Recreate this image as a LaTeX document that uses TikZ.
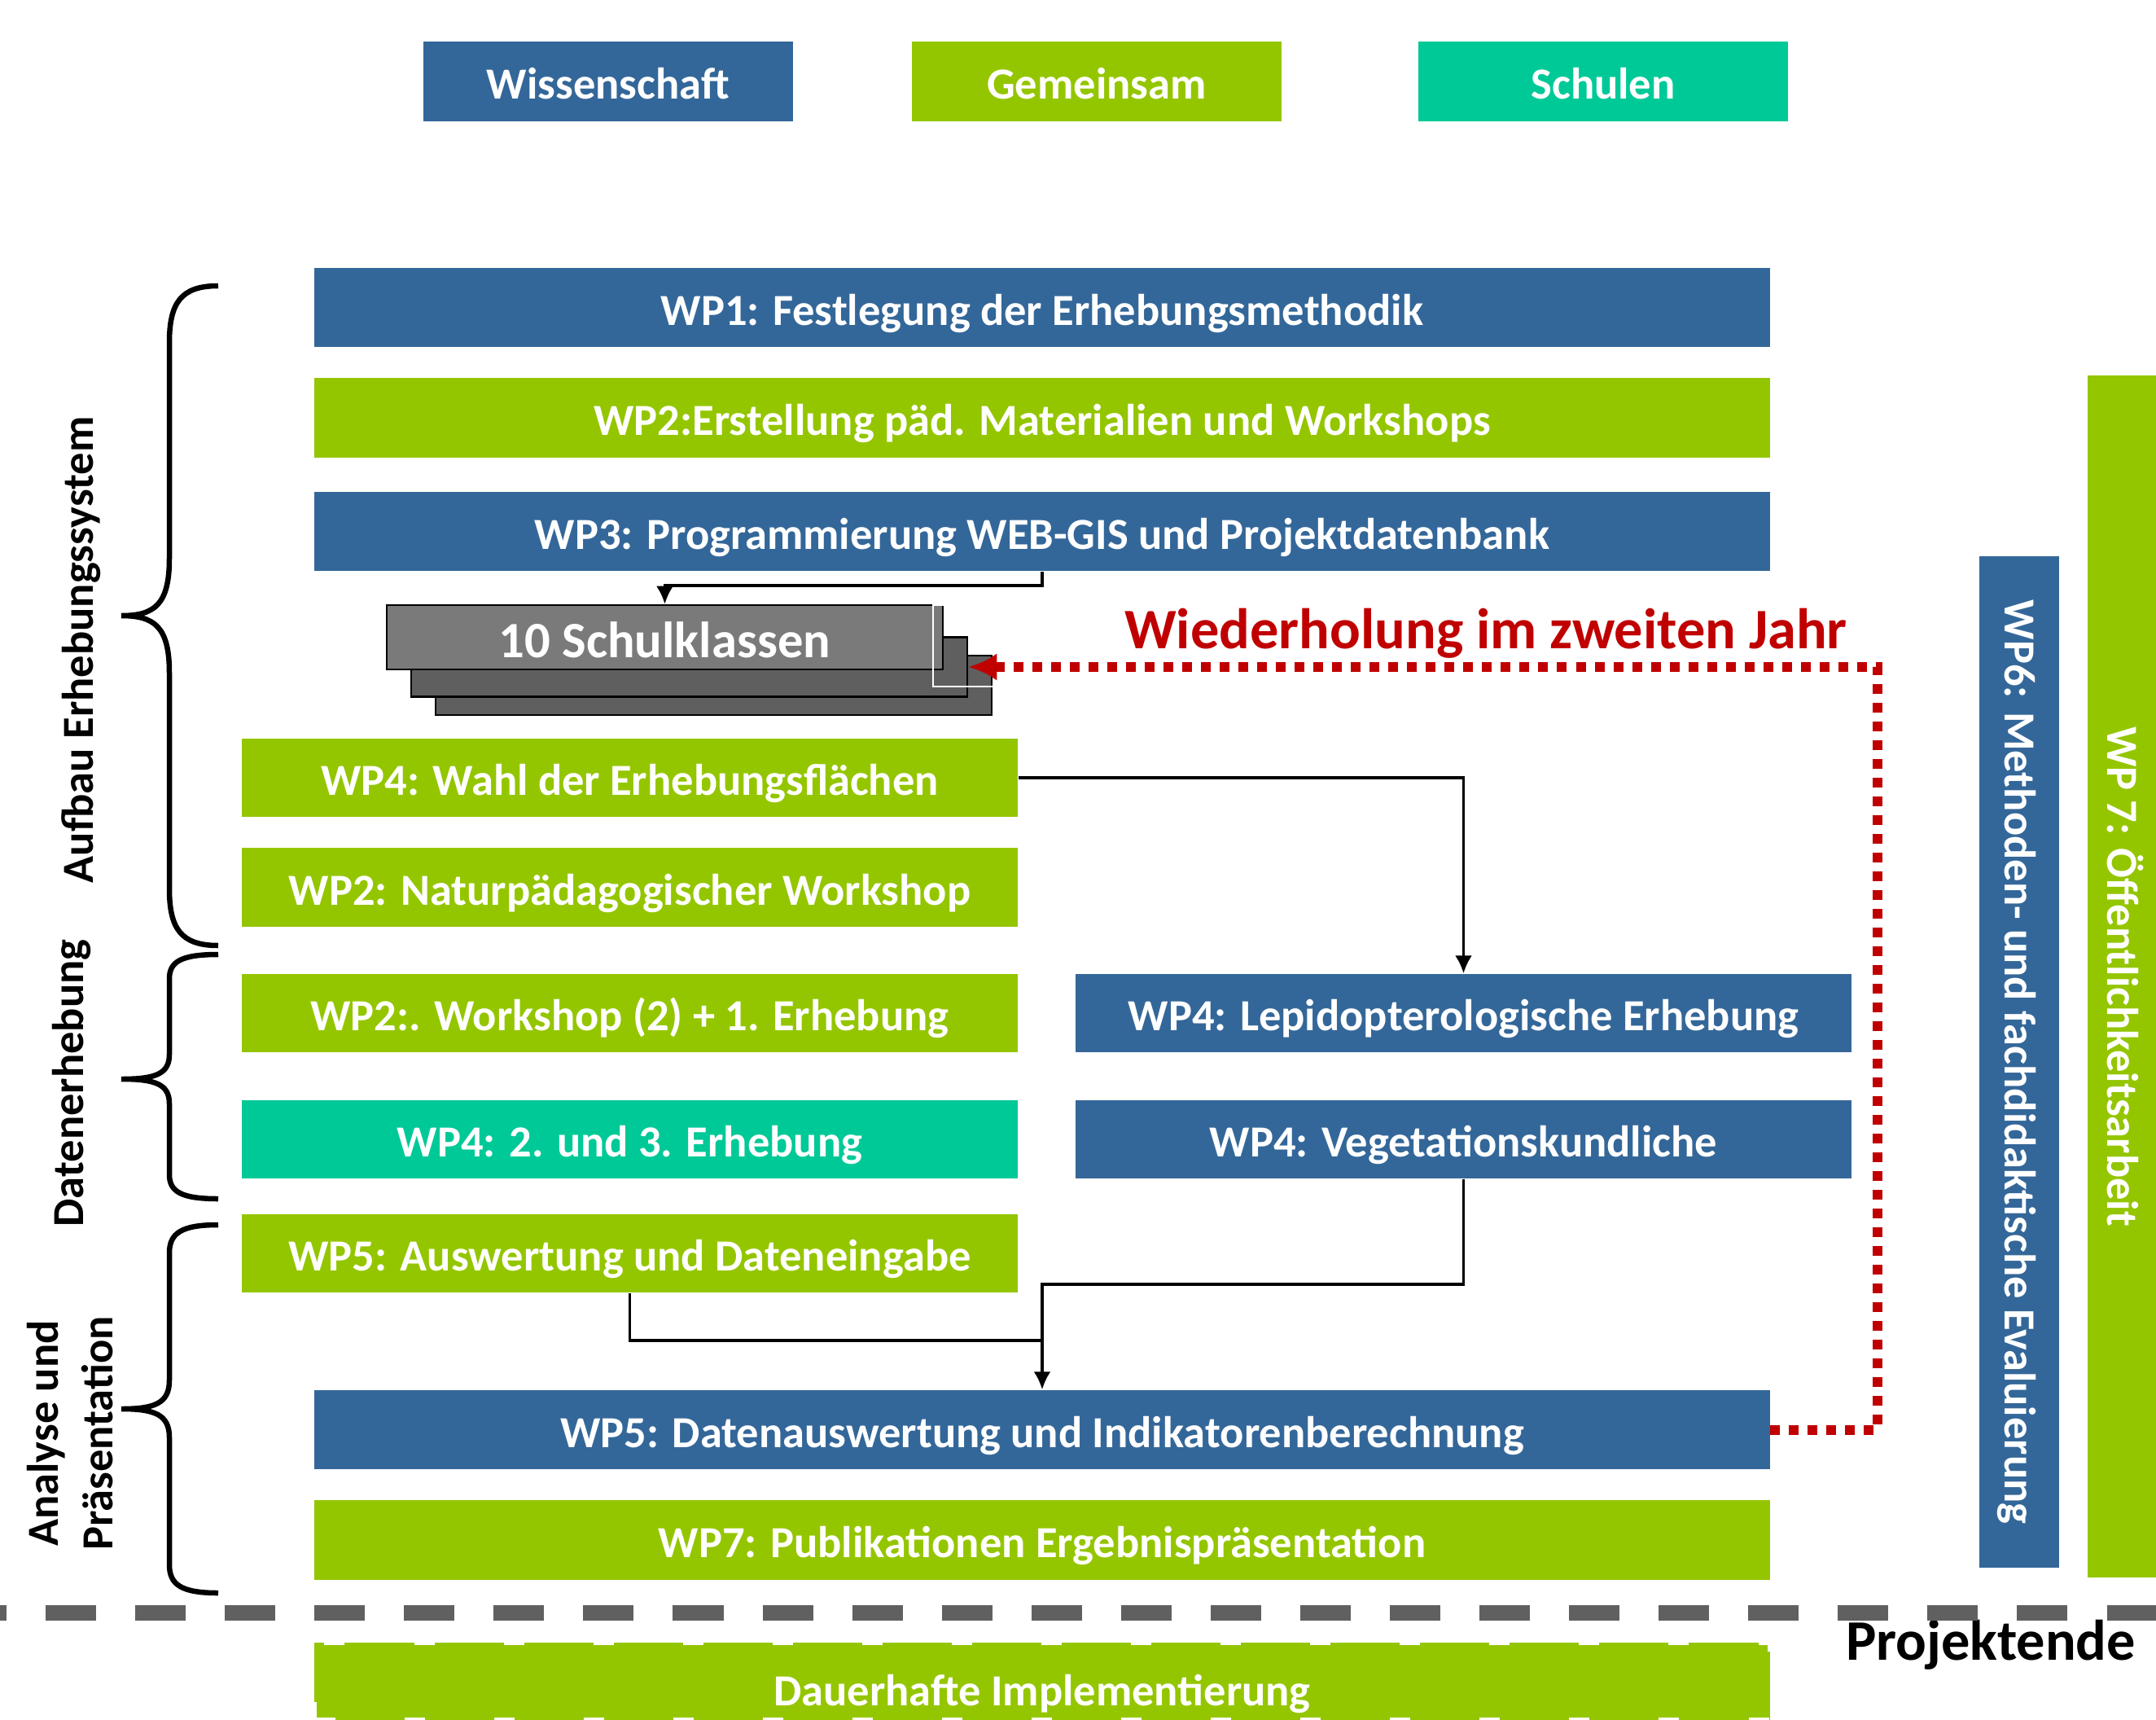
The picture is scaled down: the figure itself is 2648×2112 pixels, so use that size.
\documentclass[tikz,border=0pt]{standalone}
\usepackage{fontspec}
\setmainfont{Carlito}
\usepackage{tikz}
\usetikzlibrary{arrows.meta,positioning}
\definecolor{wpblue}{HTML}{346799}
\definecolor{wpgreen}{HTML}{94C600}
\definecolor{wpteal}{HTML}{00C998}
\definecolor{wpred}{HTML}{C00000}
\definecolor{stacklight}{HTML}{7A7A7A}
\definecolor{stackdark}{HTML}{5F5F5F}
\definecolor{endgray}{HTML}{606060}
\newcommand{\boxfont}{\fontsize{15.5}{19}\selectfont\bfseries}
\newcommand{\classfont}{\fontsize{17.8}{21}\selectfont\bfseries}
\newcommand{\bigfont}{\fontsize{20}{24}\selectfont\bfseries}
% curly bracket on the left: top, middle, bottom, corner height
\newcommand{\klammer}[4]{%
  \draw[bracket] (268,#1) .. controls (222,#1) and (208,{#1+0.3*#4}) .. (208,{#1+#4})
    -- (208,{#2-#4}) .. controls (208,{#2-0.2*#4}) and (190,#2) .. (149,#2)
    .. controls (190,#2) and (208,{#2+0.2*#4}) .. (208,{#2+#4})
    -- (208,{#3-#4}) .. controls (208,{#3-0.3*#4}) and (222,#3) .. (268,#3);}
\tikzset{
    %Define standard arrow tip
    >={Latex[length=0.22cm,width=0.21cm]},
    %Define style for work package boxes
    wpbox/.style={
           rectangle,
           inner sep=0pt,
           minimum width=17.86cm,
           minimum height=0.97cm,
           text=white,
           font=\boxfont,
           text height=12.5pt,
           text depth=0pt},
    wiss/.style={wpbox, fill=wpblue},
    gemein/.style={wpbox, fill=wpgreen},
    schul/.style={wpbox, fill=wpteal},
    halfbox/.style={
           minimum width=9.53cm,
           minimum height=0.96cm},
    legendbox/.style={
           minimum width=4.54cm,
           minimum height=0.98cm},
    upright/.style={
           rotate=-90,
           text height=10pt},
    classbox/.style={
           rectangle,
           draw=black, line width=0.025cm,
           fill=stackdark,
           minimum width=6.83cm,
           minimum height=0.73cm,
           inner sep=0pt,
           text=white,
           font=\classfont,
           text height=14pt,
           text depth=0pt},
    sidelabel/.style={
           rotate=90,
           inner sep=0pt,
           font=\boxfont,
           align=center},
    bigtext/.style={
           inner sep=0pt,
           font=\bigfont,
           text height=15pt,
           text depth=0pt},
    % Define arrow style
    pil/.style={
           ->,
           line width=0.035cm},
    loopline/.style={
           ->,
           draw=wpred,
           line width=0.12cm,
           dash pattern=on 0.12cm off 0.11cm,
           >={Latex[length=0.35cm,width=0.34cm]}},
    endline/.style={
           draw=endgray,
           line width=0.19cm,
           dash pattern=on 0.62cm off 0.48cm,
           dash phase=0.54cm},
    bracket/.style={
           line width=0.065cm}
}
\begin{document}
\begin{tikzpicture}[x=0.01cm,y=-0.01cm]
\useasboundingbox (0,0) rectangle (2648,2112);

 %legend
\node[wiss, legendbox](lwiss) at (747,100){Wissenschaft};
\node[gemein, legendbox](lgemein) at (1347,100){Gemeinsam};
\node[schul, legendbox](lschul) at (1969,100){Schulen};

 %nodes
\node[wiss](wp1) at (1280,377.5){WP1: Festlegung der Erhebungsmethodik};
\node[gemein, below=0.37cm of wp1](wp2a){WP2:Erstellung päd. Materialien und Workshops};
\node[wiss, below=0.41cm of wp2a](wp3){WP3: Programmierung WEB-GIS und Projektdatenbank};

\node[classbox](stack3) at (876.5,841.5){};
\node[classbox](stack2) at (846.5,819){};
\node[classbox, fill=stacklight, minimum height=0.79cm](klassen) at (816.5,782.5){10 Schulklassen};
\draw[white, line width=0.02cm] (1146,743) rectangle (1220,843);

\node[gemein, halfbox](wp4a) at (773.5,955){WP4: Wahl der Erhebungsflächen};
\node[gemein, halfbox, below=0.37cm of wp4a](wp2b){WP2: Naturpädagogischer Workshop};
\node[gemein, halfbox](wp2c) at (773.5,1244){WP2:. Workshop (2) + 1. Erhebung};
\node[schul, halfbox](wp4b) at (773.5,1399){WP4: 2. und 3. Erhebung};
\node[gemein, halfbox](wp5a) at (773.5,1539){WP5: Auswertung und Dateneingabe};
\node[wiss, halfbox, right=0.69cm of wp2c](wp4c){WP4: Lepidopterologische Erhebung};
\node[wiss, halfbox, right=0.69cm of wp4b](wp4d){WP4: Vegetationskundliche};
\node[wiss](wp5b) at (1280,1755.5){WP5: Datenauswertung und Indikatorenberechnung};
\node[gemein, below=0.37cm of wp5b](wp7a){WP7: Publikationen Ergebnispräsentation};
\node[gemein, minimum height=0.95cm, text height=17pt, draw=white, line width=0.06cm,
  dash pattern=on 0.25cm off 0.85cm](dauer) at (1280,2064.5){Dauerhafte Implementierung};

\node[wiss, upright, minimum width=12.42cm, minimum height=0.98cm](wp6) at (2480,1304){WP6: Methoden- und fachdidaktische Evaluierung};
\node[gemein, upright, minimum width=14.76cm, minimum height=0.84cm](wp7b) at (2606,1199){WP 7: Öffentlichkeitsarbeit};

 %labels
\node[sidelabel](aufbau) at (100,798){Aufbau Erhebungssystem};
\node[sidelabel](daten) at (88,1330){Datenerhebung};
\node[sidelabel](analyse) at (86,1760){Analyse und\\Präsentation};
\node[bigtext, text=wpred](wiederholung) at (1825,770){Wiederholung im zweiten Jahr};
\node[bigtext](ende) at (2445,2012){Projektende};

\klammer{351}{756}{1161}{70}
\klammer{1172}{1325}{1472}{30}
\klammer{1504}{1730}{1956}{35}

\draw[endline] (0,1980) -- (2648,1980);

 %connectors
\coordinate (k1) at (1280,719);
\coordinate (k2) at (1280,1577);
\coordinate (k3) at (1280,1646);
\coordinate (rep) at (2306,819);
\draw[pil] (wp3.south) -- (k1) -| (klassen.north);
\draw[pil] (wp4a.east) -| (wp4c.north);
\draw[pil] (wp4d.south) |- (k2) -- (wp5b.north);
\draw[line width=0.035cm] (wp5a.south) |- (k3);
\draw[loopline] (wp5b.east) -| (rep) -- (stack2.east);

\end{tikzpicture}
\end{document}
